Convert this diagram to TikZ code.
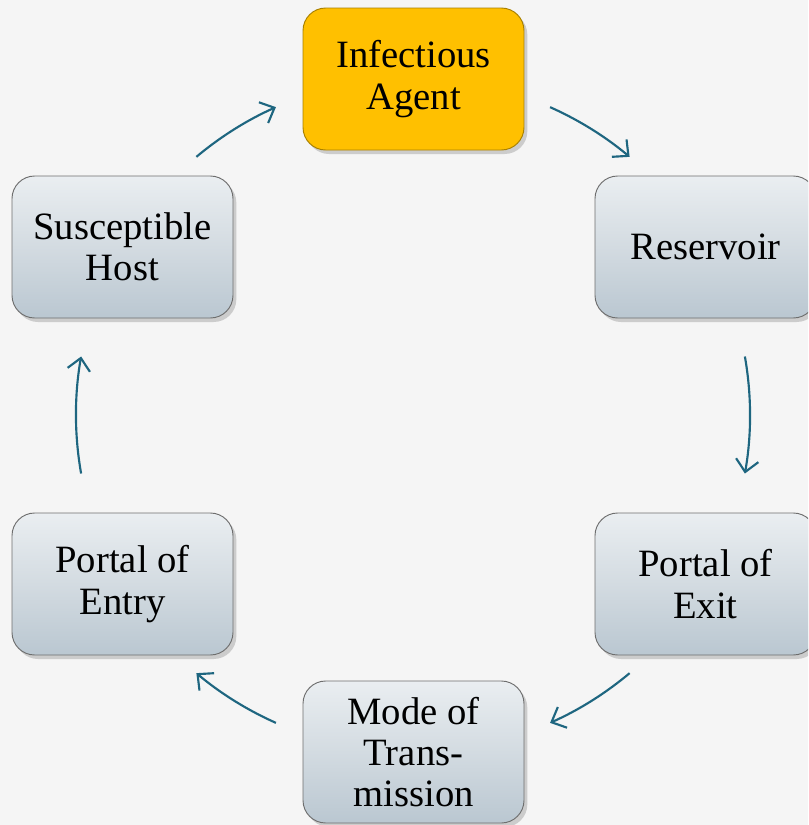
\documentclass[tikz,border=0pt]{standalone}
\usepackage{fontspec}
\setmainfont{Liberation Serif}
\usetikzlibrary{arrows.meta,shadows,calc}
\definecolor{bgc}{HTML}{F5F5F5}
\definecolor{arrc}{HTML}{1E6680}
\definecolor{boxtop}{HTML}{EAEEF1}
\definecolor{boxmid}{HTML}{D3DBE1}
\definecolor{boxbot}{HTML}{BAC7D1}
\definecolor{boxedge}{HTML}{6E6E6E}
\definecolor{agentc}{HTML}{FFC000}
\definecolor{agentedge}{HTML}{A88000}
\tikzset{
  stagebox/.style={rectangle, rounded corners=17pt, minimum width=165.75pt, minimum height=106.5pt,
    draw=boxedge, line width=0.7pt, top color=boxtop, bottom color=boxbot, middle color=boxmid,
    align=center, font=\fontsize{29}{31}\selectfont, text=black,
    drop shadow={shadow xshift=2.5pt, shadow yshift=-3pt, opacity=0.35}},
  agentbox/.style={stagebox, top color=agentc, bottom color=agentc, middle color=agentc, draw=agentedge},
  cyclearrow/.style={draw=arrc, line width=1.6pt, -{Straight Barb[length=9pt,width=17pt,line width=1.6pt]}}
}
\begin{document}
\begin{tikzpicture}[x=0.75pt,y=0.75pt]
\fill[bgc] (0,0) rectangle (808,-825);
\useasboundingbox (0,0) rectangle (808,-825);
\clip (0,0) rectangle (808,-825);
\coordinate (C) at (413,-415);
\node[agentbox] (agent) at (413.5,-79) {Infectious\\Agent};
\node[stagebox] (res) at (705.5,-247) {Reservoir};
\node[stagebox] (exit) at (705.5,-584) {Portal of\\Exit};
\node[stagebox] (mode) at (413.5,-752) {Mode of\\Trans-\\mission};
\node[stagebox] (entry) at (122.5,-584) {Portal of\\Entry};
\node[stagebox] (host) at (122.5,-247) {Susceptible\\Host};
\foreach \n/\a in {a1/130,a2/66,a3/10,a4/-50,a5/-114,a6/190}
  \coordinate (\n) at ($(C)+(\a:337)$);
\draw[cyclearrow] (a1) arc[start angle=130, end angle=114, radius=337*0.75pt];
\draw[cyclearrow] (a2) arc[start angle=66, end angle=50, radius=337*0.75pt];
\draw[cyclearrow] (a3) arc[start angle=10, end angle=-10, radius=337*0.75pt];
\draw[cyclearrow] (a4) arc[start angle=-50, end angle=-66, radius=337*0.75pt];
\draw[cyclearrow] (a5) arc[start angle=-114, end angle=-130, radius=337*0.75pt];
\draw[cyclearrow] (a6) arc[start angle=190, end angle=170, radius=337*0.75pt];
\end{tikzpicture}
\end{document}
